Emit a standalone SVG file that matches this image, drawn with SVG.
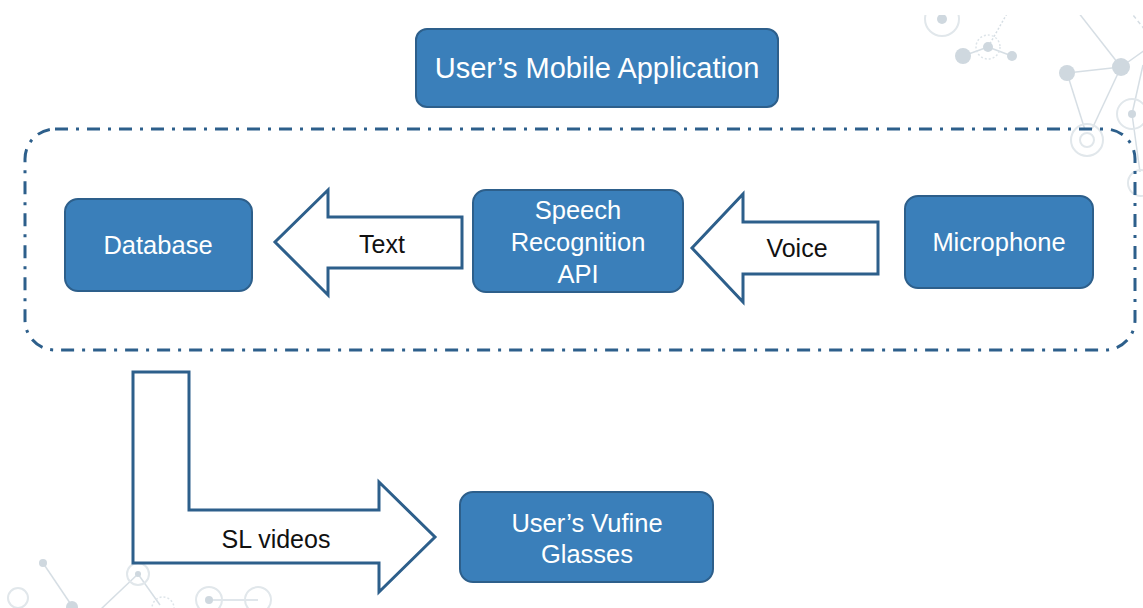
<svg xmlns="http://www.w3.org/2000/svg" width="1143" height="608" viewBox="0 0 1143 608">
  <defs>
    <style>
      .node rect { fill: #3a7fba; stroke: #2d5f8b; stroke-width: 2; }
      .node text { fill: #ffffff; font-family: "Liberation Sans", Arial, sans-serif; font-size: 25.5px; text-anchor: middle; }
      .flow path { fill: #ffffff; stroke: #2d5f8b; stroke-width: 3; stroke-linejoin: miter; }
      .flow text { fill: #111111; font-family: "Liberation Sans", Arial, sans-serif; font-size: 25px; text-anchor: middle; }
      .boundary { fill: none; stroke: #2d5f8b; stroke-width: 3; stroke-dasharray: 13 8 3 8; }
      .deco line { stroke: #d6dee4; stroke-width: 1.5; }
      .deco .dot { fill: #cfd8df; }
      .deco .ring { fill: none; stroke: #e1e7eb; stroke-width: 2; }
      .deco .dotted { fill: none; stroke: #dde4e9; stroke-width: 1.5; stroke-dasharray: 2 2; }
    </style>
    <clipPath id="page">
      <rect x="0" y="15" width="1143" height="593"/>
    </clipPath>
  </defs>

  <rect width="1143" height="608" fill="#ffffff"/>

  <!-- decorative network pattern -->
  <g class="deco" clip-path="url(#page)">
    <!-- top right -->
    <line x1="963" y1="56" x2="988" y2="47"/>
    <line x1="988" y1="47" x2="1012" y2="56"/>
    <line x1="988" y1="47" x2="1008" y2="12" class="dotted" style="stroke:#d6dee4"/>
    <line x1="1067" y1="73" x2="1121" y2="67"/>
    <line x1="1067" y1="73" x2="1085" y2="130"/>
    <line x1="1121" y1="67" x2="1092" y2="129"/>
    <line x1="1121" y1="67" x2="1078" y2="12"/>
    <line x1="1121" y1="67" x2="1145" y2="50"/>
    <line x1="1129" y1="10" x2="1145" y2="30" style="stroke-dasharray:4 3"/>
    <line x1="1132" y1="114" x2="1143" y2="65"/>
    <line x1="1132" y1="114" x2="1140" y2="172"/>
    <circle class="ring" cx="942" cy="19" r="17"/>
    <circle class="dot" cx="942" cy="19" r="5"/>
    <circle class="dotted" cx="988" cy="47" r="12"/>
    <circle class="dot" cx="988" cy="47" r="5"/>
    <circle class="dot" cx="963" cy="56" r="8"/>
    <circle class="dot" cx="1012" cy="56" r="5"/>
    <circle class="dot" cx="1067" cy="73" r="8"/>
    <circle class="dot" cx="1121" cy="67" r="9"/>
    <circle class="ring" cx="1087" cy="140" r="16"/>
    <circle class="ring" cx="1087" cy="140" r="7"/>
    <circle class="ring" cx="1132" cy="114" r="15"/>
    <circle class="dot" cx="1132" cy="114" r="4"/>
    <circle class="ring" cx="1141" cy="183" r="13"/>
    <!-- bottom left -->
    <line x1="43" y1="563" x2="72" y2="606"/>
    <line x1="138" y1="574" x2="100" y2="610"/>
    <line x1="138" y1="574" x2="160" y2="605"/>
    <line x1="209" y1="600" x2="258" y2="600"/>
    <circle class="dot" cx="43" cy="563" r="4"/>
    <circle class="dot" cx="72" cy="607" r="6"/>
    <circle class="ring" cx="138" cy="574" r="11"/>
    <circle class="dot" cx="138" cy="574" r="3"/>
    <circle class="dotted" cx="163" cy="608" r="11"/>
    <circle class="ring" cx="18" cy="598" r="10"/>
    <circle class="ring" cx="209" cy="600" r="13"/>
    <circle class="dot" cx="209" cy="600" r="4"/>
    <circle class="ring" cx="258" cy="600" r="13"/>
  </g>

  <!-- application boundary -->
  <rect class="boundary" x="25" y="129" width="1110" height="221" rx="30" ry="30"/>

  <!-- flows -->
  <g id="connectors" class="flow">
    <g id="flow-text">
      <path d="M462,217 L328,217 L328,190 L275,242 L328,295 L328,268 L462,268 Z"/>
      <text x="382" y="253">Text</text>
    </g>
    <g id="flow-voice">
      <path d="M878,222 L743,222 L743,194 L692,248 L743,302 L743,274 L878,274 Z"/>
      <text x="797" y="257">Voice</text>
    </g>
    <g id="flow-sl-videos">
      <path d="M133,372 L189,372 L189,510 L379,510 L379,482 L435,537 L379,592 L379,563 L133,563 Z"/>
      <text x="276" y="548">SL videos</text>
    </g>
  </g>

  <!-- nodes -->
  <g id="mobile-app" class="node">
    <rect x="416" y="29" width="362" height="78" rx="11"/>
    <text x="597" y="78" style="font-size:29px">User’s Mobile Application</text>
  </g>
  <g id="database" class="node">
    <rect x="65" y="199" width="187" height="92" rx="13"/>
    <text x="158" y="254">Database</text>
  </g>
  <g id="speech-api" class="node">
    <rect x="473" y="190" width="210" height="102" rx="13"/>
    <text x="578" y="219">Speech</text>
    <text x="578" y="251">Recognition</text>
    <text x="578" y="283">API</text>
  </g>
  <g id="microphone" class="node">
    <rect x="905" y="196" width="188" height="92" rx="13"/>
    <text x="999" y="251">Microphone</text>
  </g>
  <g id="vufine-glasses" class="node">
    <rect x="460" y="492" width="253" height="90" rx="13"/>
    <text x="587" y="532">User’s Vufine</text>
    <text x="587" y="563">Glasses</text>
  </g>
</svg>
